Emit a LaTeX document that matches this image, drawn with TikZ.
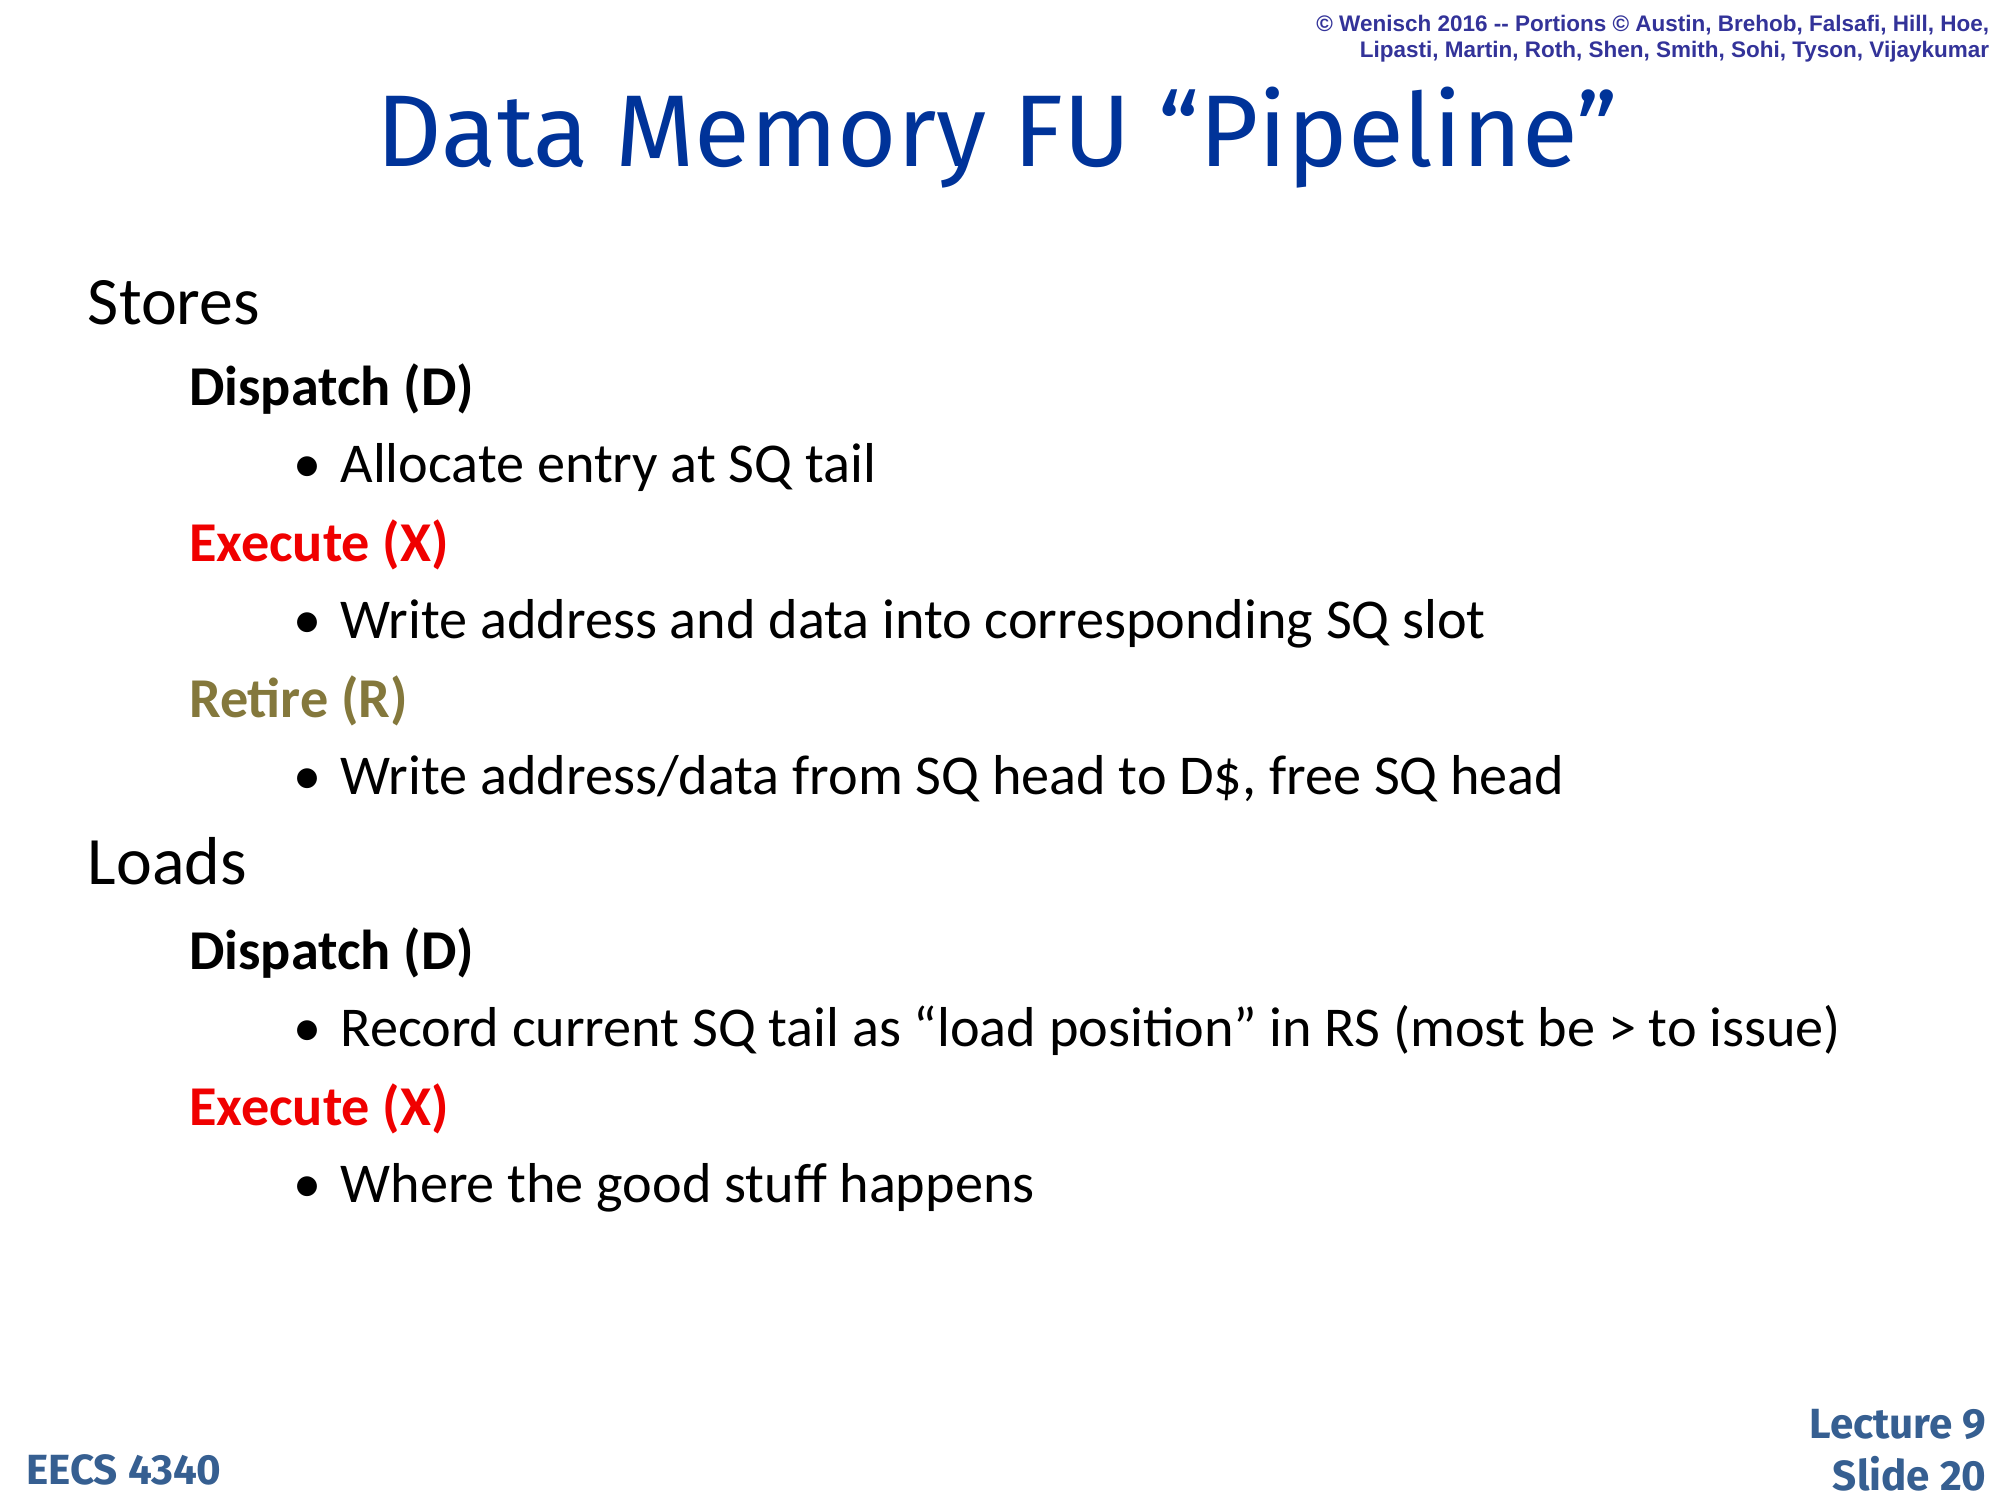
\documentclass[tikz,border=0pt]{standalone}
\usepackage{fontspec}
\setmainfont{Carlito}
\newfontfamily\titlefont{Fira Sans}
\newfontfamily\arialfont{Liberation Sans}
\usetikzlibrary{positioning}
\definecolor{titleblue}{RGB}{0,51,153}
\definecolor{copyblue}{RGB}{51,51,153}
\definecolor{footblue}{RGB}{54,95,145}
\definecolor{retire}{RGB}{132,120,60}
\definecolor{execred}{RGB}{240,0,0}
\begin{document}
\begin{tikzpicture}[x=1cm/78, y=-1cm/78, every node/.style={inner sep=0pt},
    head/.style={anchor=base west, font=\fontsize{19.3}{23}\selectfont},
    stage/.style={anchor=base west, font=\fontsize{16}{19}\selectfont\bfseries},
    item/.style={anchor=base west, font=\fontsize{16}{19}\selectfont},
    dot/.style={anchor=base west, font=\fontsize{16}{19}\selectfont}]
  \useasboundingbox[fill=white] (0,0) rectangle (1560,1170);

  % Header
  \node[anchor=north east, align=right, font=\arialfont\fontsize{6.4}{7.6}\selectfont\bfseries, text=copyblue] (copy) at (1552,11)
    {© Wenisch 2016 -- Portions © Austin, Brehob, Falsafi, Hill, Hoe,\\Lipasti, Martin, Roth, Shen, Smith, Sohi, Tyson, Vijaykumar};
  \node[anchor=base, font=\titlefont\fontsize{29}{35}\selectfont, text=titleblue] (title) at (778,130) {Data Memory FU “Pipeline”};

  % Stores
  \node[head] (stores) at (68,253) {Stores};
  \node[stage] (sd) at (147,316) {Dispatch (D)};
  \node[dot] (b1) at (228,376) {•};
  \node[item] (t1) at (265,376) {Allocate entry at SQ tail};
  \node[stage, text=execred] (sx) at (147,438) {Execute (X)};
  \node[dot] (b2) at (228,498) {•};
  \node[item] (t2) at (265,498) {Write address and data into corresponding SQ slot};
  \node[stage, text=retire] (sr) at (147,560) {Retire (R)};
  \node[dot] (b3) at (228,620) {•};
  \node[item] (t3) at (265,620) {Write address/data from SQ head to D\$, free SQ head};

  % Loads
  \node[head] (loads) at (68,690) {Loads};
  \node[stage] (ld) at (147,756) {Dispatch (D)};
  \node[dot] (b4) at (228,816) {•};
  \node[item] (t4) at (265,816) {Record current SQ tail as “load position” in RS (most be > to issue)};
  \node[stage, text=execred] (lx) at (147,878) {Execute (X)};
  \node[dot] (b5) at (228,938) {•};
  \node[item] (t5) at (265,938) {Where the good stuff happens};

  % Footer
  \node[anchor=base west, font=\titlefont\fontsize{12}{14}\selectfont\bfseries, text=footblue] (course) at (20,1158) {EECS 4340};
  \node[anchor=south east, align=right, font=\titlefont\fontsize{12}{15}\selectfont\bfseries, text=footblue] (slide) at (1550,1164) {Lecture 9\\Slide 20};
\end{tikzpicture}
\end{document}
